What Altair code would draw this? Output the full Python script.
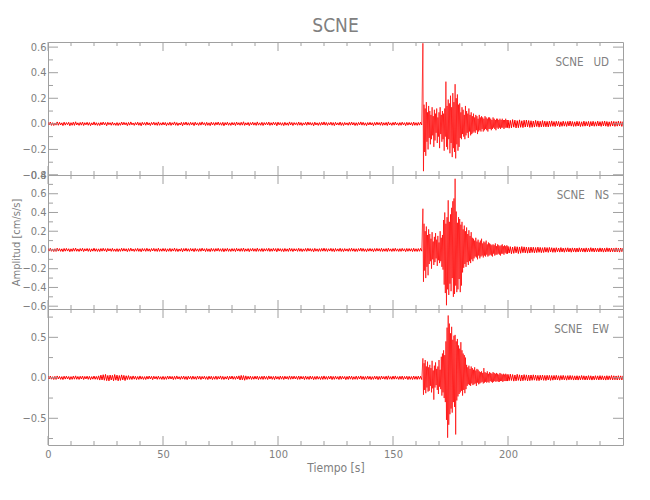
import altair as alt
import pandas as pd

FONT = "Liberation Sans Narrow, DejaVu Sans Condensed, Liberation Sans, sans-serif"
AX = "#a0a0a0"
TX = "#808080"
RED = "#ff0000"
W = 575

# ---- time axis ----
X_DOMAIN = [0, 250]
X_MAJOR = [0, 50, 100, 150, 200]
X_MINOR = [10, 20, 30, 40, 60, 70, 80, 90, 110, 120, 130, 140, 160, 170, 180, 190, 210, 220, 230, 240]

# sampling of the three read-off segments of every trace (seconds)
PRE_START, PRE_STEP = 0.0, 0.5
EV_START, EV_STEP = 163.0, 0.25
CODA_START, CODA_STEP = 200.0, 0.5

# quiet parts are listed in milli-(cm/s/s), the strong motion in cm/s/s
# ---- UD component ----
ud_pre_milli = [
    11, -8, 14, -12, 9, -13, 7, -10, 15, -11, 12, -9, 8, -14, 13, -10, 10, -7, 12, -15,
    9, -11, 13, -12, 16, -9, 8, -12, 11, -10, 14, -13, 9, -8, 12, -11, 10, -14, 8, -9,
    15, -10, 9, -12, 8, -13, 11, -9, 14, -8, 10, -15, 12, -7, 9, -11, 13, -10, 7, -12,
    10, -13, 8, -11, 14, -9, 12, -8, 9, -14, 11, -10, 15, -8, 7, -12, 10, -9, 13, -11,
    9, -15, 12, -8, 10, -11, 14, -9, 8, -13, 11, -7, 13, -10, 9, -12, 15, -11, 8, -10,
    12, -9, 11, -14, 8, -10, 13, -12, 9, -8, 15, -11, 10, -13, 7, -9, 12, -15, 11, -8,
    14, -10, 9, -11, 12, -8, 10, -14, 13, -9, 8, -12, 11, -10, 15, -7, 9, -13, 12, -11,
    8, -14, 13, -9, 10, -12, 11, -8, 14, -10, 9, -11, 12, -15, 10, -9, 13, -11, 8, -12,
    11, -9, 10, -13, 14, -8, 9, -11, 12, -10, 16, -12, 8, -9, 11, -14, 10, -8, 13, -10,
    9, -12, 15, -10, 8, -11, 12, -13, 10, -8, 11, -9, 14, -12, 9, -10, 13, -8, 11, -15,
    13, -8, 10, -11, 9, -14, 12, -10, 8, -12, 15, -9, 11, -13, 10, -7, 9, -11, 14, -10,
    10, -13, 8, -9, 12, -11, 14, -8, 11, -10, 9, -15, 13, -9, 8, -12, 10, -11, 12, -9,
    15, -10, 11, -12, 9, -8, 13, -11, 10, -14, 12, -9, 8, -10, 14, -12, 9, -13, 11, -8,
    8, -11, 12, -10, 14, -9, 10, -13, 9, -12, 11, -8, 15, -10, 12, -11, 8, -14, 10, -9,
    12, -9, 9, -14, 11, -10, 13, -8, 10, -11, 14, -12, 9, -10, 11, -13, 15, -9, 8, -12,
    11, -10, 14, -9, 8, -12, 10, -11, 13, -8, 9, -14, 12, -10, 11, -9, 10, -13, 14, -11,
    9, -12, 11, -10, 13, -9]
ud_event = [0.63, -0.37, 0.15, -0.22, 0.12, -0.25, 0.17, -0.14, 0.09, -0.20, 0.14, -0.11,
            0.10, -0.16, 0.07, -0.12, 0.13, -0.09, 0.06, -0.18, 0.11, -0.13, 0.08, -0.07, 0.12, -0.15, 0.05, -0.10, 0.09, -0.19, 0.13, -0.08, 0.07, -0.14, 0.10, -0.12,
            0.08, -0.21, 0.12, -0.10, 0.33, -0.18, 0.14, -0.20, 0.19, -0.12, 0.16, -0.23,
            0.22, -0.15, 0.13, -0.26, 0.24, -0.19, 0.17, -0.22, 0.31, -0.27, 0.20, -0.16, 0.23, -0.21, 0.15, -0.18,
            0.16, -0.11, 0.09, -0.12, 0.13, -0.08, 0.11, -0.10, 0.07, -0.12, 0.14, -0.09, 0.10, -0.07, 0.08, -0.11, 0.12, -0.06, 0.07, -0.09, 0.09, -0.08, 0.06, -0.07,
            0.08, -0.06, 0.05, -0.07, 0.07, -0.05, 0.06, -0.08, 0.04, -0.06, 0.07, -0.05, 0.05, -0.06, 0.06, -0.04, 0.05, -0.06, 0.04, -0.05, 0.06, -0.04, 0.05, -0.05, 0.04, -0.06, 0.05, -0.04,
            0.05, -0.04, 0.04, -0.05, 0.03, -0.04, 0.05, -0.03, 0.04, -0.04, 0.03, -0.05, 0.04, -0.03, 0.04, -0.04, 0.03, -0.03, 0.04, -0.04, 0.03, -0.03, 0.04, -0.03, 0.03, -0.04, 0.03, -0.03, 0.04, -0.03, 0.03, -0.03]
ud_coda_milli = [
    30, -34, 27, -31, 33, -26, 29, -32, 25, -30, 31, -27, 24, -29, 28, -25, 30, -23, 26, -28,
    24, -27, 22, -25, 27, -21, 23, -26, 20, -24, 25, -22, 21, -23, 19, -24, 22, -20, 23, -19,
    18, -21, 20, -17, 19, -22, 16, -19, 21, -18, 17, -20, 19, -16, 22, -18, 18, -20, 16, -19,
    20, -17, 18, -21, 16, -19, 21, -18, 17, -16, 19, -22, 18, -17, 20, -19, 16, -18, 21, -17,
    17, -20, 19, -16, 22, -18, 18, -21, 16, -19, 20, -17, 19, -20, 17, -18, 21, -16, 18, -20,
    19]

# ---- NS component ----
ns_pre_milli = [
    15, -12, 18, -14, 11, -17, 13, -16, 19, -12, 14, -15, 12, -18, 16, -13, 17, -12, 13, -19,
    12, -15, 17, -13, 20, -14, 11, -16, 15, -12, 18, -17, 13, -11, 16, -15, 14, -18, 12, -13,
    19, -14, 13, -16, 12, -17, 15, -13, 18, -12, 14, -19, 16, -11, 13, -15, 17, -14, 11, -16,
    14, -17, 12, -15, 18, -13, 16, -12, 13, -18, 15, -14, 19, -12, 11, -16, 14, -13, 17, -15,
    13, -19, 16, -12, 14, -15, 18, -13, 12, -17, 15, -11, 17, -14, 13, -16, 19, -15, 12, -14,
    16, -13, 15, -18, 12, -14, 17, -16, 13, -12, 19, -15, 14, -17, 11, -13, 16, -19, 15, -12,
    18, -14, 13, -15, 16, -12, 14, -18, 17, -13, 12, -16, 15, -14, 19, -11, 13, -17, 16, -15,
    12, -18, 17, -13, 14, -16, 15, -12, 18, -14, 13, -15, 16, -19, 14, -13, 17, -15, 12, -16,
    15, -13, 14, -17, 18, -12, 13, -15, 16, -14, 20, -16, 12, -13, 15, -18, 14, -12, 17, -14,
    13, -16, 19, -14, 12, -15, 16, -17, 14, -12, 15, -13, 18, -16, 13, -14, 17, -12, 15, -19,
    17, -12, 14, -15, 13, -18, 16, -14, 12, -16, 19, -13, 15, -17, 14, -11, 13, -15, 18, -14,
    14, -17, 12, -13, 16, -15, 18, -12, 15, -14, 13, -19, 17, -13, 12, -16, 14, -15, 16, -13,
    19, -14, 15, -16, 13, -12, 17, -15, 14, -18, 16, -13, 12, -14, 18, -16, 13, -17, 15, -12,
    12, -15, 16, -14, 18, -13, 14, -17, 13, -16, 15, -12, 19, -14, 16, -15, 12, -18, 14, -13,
    16, -13, 13, -18, 15, -14, 17, -12, 14, -15, 18, -16, 13, -14, 15, -17, 19, -13, 12, -16,
    15, -14, 18, -13, 12, -16, 14, -15, 17, -12, 13, -18, 16, -14, 15, -13, 14, -17, 18, -15,
    13, -16, 15, -14, 17, -13]
ns_event = [0.44, -0.34, 0.28, -0.22, 0.20, -0.30, 0.25, -0.18, 0.16, -0.27, 0.22, -0.15,
            0.17, -0.12, 0.12, -0.20, 0.19, -0.10, 0.09, -0.16, 0.14, -0.13, 0.18, -0.09, 0.11, -0.17, 0.15, -0.11, 0.08, -0.14, 0.20, -0.12, 0.13, -0.18, 0.16, -0.21,
            0.32, -0.37, 0.40, -0.46, 0.28, -0.59, 0.35, -0.42, 0.53, -0.48, 0.30, -0.36,
            0.38, -0.44, 0.45, -0.30, 0.52, -0.50, 0.55, -0.47, 0.76, -0.38, 0.41, -0.45, 0.29, -0.42, 0.35, -0.31,
            0.33, -0.45, 0.27, -0.38, 0.30, -0.24, 0.22, -0.19, 0.26, -0.15, 0.20, -0.18, 0.24, -0.13, 0.17, -0.16, 0.21, -0.12, 0.15, -0.14, 0.19, -0.10, 0.13, -0.12,
            0.12, -0.09, 0.10, -0.07, 0.13, -0.08, 0.09, -0.10, 0.11, -0.06, 0.08, -0.09, 0.10, -0.07, 0.12, -0.06, 0.07, -0.08, 0.09, -0.06, 0.08, -0.07, 0.10, -0.05, 0.06, -0.07, 0.08, -0.06,
            0.07, -0.05, 0.06, -0.06, 0.05, -0.07, 0.06, -0.04, 0.05, -0.06, 0.07, -0.05, 0.04, -0.05, 0.06, -0.04, 0.05, -0.05, 0.04, -0.06, 0.05, -0.04, 0.06, -0.04, 0.04, -0.05, 0.05, -0.03, 0.04, -0.04, 0.05, -0.04]
ns_coda_milli = [
    38, -33, 35, -40, 31, -36, 37, -30, 34, -38, 32, -35, 36, -29, 33, -31, 30, -34, 28, -32,
    30, -27, 29, -31, 26, -28, 30, -25, 27, -29, 24, -27, 28, -23, 25, -26, 27, -22, 24, -25,
    22, -25, 24, -20, 21, -23, 25, -21, 20, -24, 22, -19, 23, -21, 19, -24, 22, -20, 21, -23,
    20, -22, 23, -19, 21, -20, 18, -23, 22, -21, 19, -20, 24, -18, 20, -22, 21, -19, 18, -21,
    22, -19, 20, -23, 19, -21, 23, -18, 20, -22, 21, -19, 18, -21, 22, -20, 19, -23, 21, -18,
    20]

# ---- EW component ----
ew_pre_milli = [
    19, -15, 22, -17, 14, -21, 18, -20, 23, -14, 17, -19, 15, -22, 20, -16, 21, -15, 16, -23,
    15, -19, 21, -17, 24, -18, 16, -20, 19, -15, 22, -21, 17, -14, 20, -19, 18, -22, 15, -17,
    22, -18, 17, -20, 24, -28, 33, -26, 38, -30, 42, -35, 29, -38, 34, -27, 31, -36, 40, -29,
    33, -37, 28, -32, 36, -26, 30, -34, 25, -22, 27, -20, 18, -21, 23, -17, 19, -22, 16, -20,
    23, -17, 16, -20, 15, -21, 19, -16, 22, -15, 18, -23, 20, -14, 16, -19, 21, -17, 14, -20,
    18, -21, 15, -19, 22, -16, 20, -15, 17, -22, 19, -18, 23, -15, 14, -20, 18, -16, 21, -19,
    16, -23, 20, -15, 18, -19, 21, -17, 15, -20, 22, -16, 19, -21, 17, -14, 20, -18, 15, -22,
    20, -16, 19, -22, 15, -18, 21, -20, 17, -15, 23, -19, 18, -21, 14, -16, 20, -23, 19, -15,
    22, -18, 16, -19, 20, -15, 24, -27, 29, -25, 27, -30, 24, -21, 19, -17, 21, -20, 16, -18,
    20, -16, 21, -22, 15, -18, 19, -20, 22, -17, 16, -21, 23, -15, 18, -19, 17, -22, 20, -16,
    15, -20, 22, -17, 18, -21, 20, -15, 16, -19, 23, -18, 19, -16, 21, -14, 17, -20, 22, -19,
    19, -15, 17, -22, 21, -18, 15, -20, 22, -16, 18, -23, 16, -19, 20, -17, 14, -21, 18, -20,
    23, -18, 16, -20, 19, -15, 21, -22, 17, -19, 20, -16, 15, -21, 22, -18, 19, -14, 17, -23,
    16, -19, 22, -17, 20, -21, 14, -18, 21, -20, 18, -15, 23, -19, 17, -22, 16, -18, 21, -17,
    18, -22, 15, -19, 21, -16, 19, -23, 17, -20, 22, -15, 16, -18, 20, -21, 24, -17, 15, -19,
    21, -17, 23, -16, 15, -20, 19, -18, 22, -21, 17, -15, 20, -22, 18, -19, 16, -21, 22, -18,
    18, -20, 21, -17, 19, -22]
ew_event = [0.24, -0.21, 0.18, -0.15, 0.22, -0.19, 0.14, -0.12, 0.20, -0.17, 0.13, -0.16,
            0.16, -0.10, 0.12, -0.18, 0.21, -0.13, 0.09, -0.27, 0.15, -0.12, 0.19, -0.09, 0.11, -0.15, 0.14, -0.20, 0.22, -0.11, 0.10, -0.14,
            0.26, -0.22, 0.30, -0.18, 0.34, -0.25, 0.28, -0.30,
            0.45, -0.52, 0.62, -0.74, 0.77, -0.58, 0.67, -0.45,
            0.55, -0.38, 0.63, -0.43, 0.47, -0.30, 0.52, -0.36,
            0.53, -0.70, 0.45, -0.28,
            0.48, -0.23, 0.40, -0.20, 0.36, -0.18, 0.44, -0.16, 0.34, -0.22, 0.30, -0.15, 0.28, -0.19, 0.25, -0.14,
            0.16, -0.10, 0.13, -0.08, 0.15, -0.09, 0.11, -0.10, 0.14, -0.07, 0.12, -0.09, 0.10, -0.08, 0.13, -0.07, 0.09, -0.10, 0.11, -0.06, 0.10, -0.08, 0.08, -0.07,
            0.07, -0.06, 0.08, -0.05, 0.06, -0.07, 0.12, -0.06, 0.07, -0.05, 0.06, -0.06, 0.08, -0.05, 0.05, -0.06, 0.07, -0.04, 0.06, -0.05,
            0.05, -0.06, 0.07, -0.05, 0.06, -0.04, 0.05, -0.05, 0.06, -0.04, 0.05, -0.05, 0.04, -0.05, 0.06, -0.04, 0.05, -0.04, 0.04, -0.05,
            0.05, -0.04, 0.04, -0.04, 0.05, -0.04, 0.04, -0.04]
ew_coda_milli = [
    42, -36, 45, -33, 40, -41, 35, -38, 43, -32, 37, -40, 34, -36, 39, -31, 36, -38, 33, -35,
    35, -31, 37, -29, 33, -34, 30, -35, 32, -28, 34, -31, 29, -33, 31, -27, 30, -32, 28, -29,
    29, -25, 31, -27, 26, -30, 28, -24, 30, -26, 25, -29, 27, -25, 29, -23, 26, -28, 24, -27,
    26, -28, 24, -25, 28, -23, 25, -27, 23, -26, 27, -24, 25, -28, 22, -25, 26, -23, 24, -27,
    27, -24, 25, -26, 23, -28, 26, -25, 24, -23, 28, -26, 25, -24, 23, -27, 26, -25, 24, -26,
    25]

# ---- per-panel axes ----
UD_DOMAIN = [-0.40, 0.64]
UD_MAJOR = [-0.4, -0.2, 0.0, 0.2, 0.4, 0.6]
UD_MINOR = [-0.3, -0.1, 0.1, 0.3, 0.5]
NS_DOMAIN = [-0.63, 0.80]
NS_MAJOR = [-0.6, -0.4, -0.2, 0.0, 0.2, 0.4, 0.6, 0.8]
NS_MINOR = [-0.5, -0.3, -0.1, 0.1, 0.3, 0.5, 0.7]
EW_DOMAIN = [-0.83, 0.85]
EW_MAJOR = [-0.5, 0.0, 0.5]
EW_MINOR = [-0.75, -0.25, 0.25, 0.75]

PANELS = [
    dict(label="SCNE\u00a0\u00a0\u00a0UD", pre=ud_pre_milli, ev=ud_event, coda=ud_coda_milli,
         domain=UD_DOMAIN, major=UD_MAJOR, minor=UD_MINOR, height=133),
    dict(label="SCNE\u00a0\u00a0\u00a0NS", pre=ns_pre_milli, ev=ns_event, coda=ns_coda_milli,
         domain=NS_DOMAIN, major=NS_MAJOR, minor=NS_MINOR, height=134),
    dict(label="SCNE\u00a0\u00a0\u00a0EW", pre=ew_pre_milli, ev=ew_event, coda=ew_coda_milli,
         domain=EW_DOMAIN, major=EW_MAJOR, minor=EW_MINOR, height=136),
]

NOISE_W, EVENT_W = 1.0, 0.7


def trace_frame(p):
    rows = []
    segs = [("pre", PRE_START, PRE_STEP, [v / 1000 for v in p["pre"]], NOISE_W),
            ("event", EV_START, EV_STEP, p["ev"], EVENT_W),
            ("coda", CODA_START, CODA_STEP, [v / 1000 for v in p["coda"]], NOISE_W)]
    last = None
    for name, start, step, vals, w in segs:
        if last is not None:  # join to the previous segment's last sample
            rows.append({"t": last[0], "v": last[1], "seg": name, "w": w})
        for i, v in enumerate(vals):
            rows.append({"t": start + step * i, "v": v, "seg": name, "w": w})
        last = (start + step * (len(vals) - 1), vals[-1])
    return pd.DataFrame(rows)


def make_panel(p, idx):
    H = p["height"]
    bottom = idx == len(PANELS) - 1
    if bottom:
        xaxis = alt.Axis(values=X_MAJOR, ticks=False, domain=False, grid=False,
                         labelColor=TX, labelFont=FONT, labelFontSize=11, labelPadding=3,
                         labelFlush=False, format="d",
                         title="Tiempo [s]", titleColor=TX, titleFont=FONT, titleFontSize=12,
                         titleFontWeight="normal", titlePadding=3)
    else:
        xaxis = None
    ytitle = "Amplitud [cm/s/s]" if idx == 1 else None
    yaxis = alt.Axis(values=p["major"], ticks=False, domain=False, grid=False,
                     labelColor=TX, labelFont=FONT, labelFontSize=11, labelPadding=2,
                     labelOverlap=False, labelFlush=False, format=".1f",
                     title=ytitle, titleColor=TX, titleFont=FONT, titleFontSize=11,
                     titleFontWeight="normal", titlePadding=0)
    xs = alt.Scale(domain=X_DOMAIN, nice=False, zero=False)
    ys = alt.Scale(domain=p["domain"], nice=False, zero=False)

    def X():
        return alt.X("t:Q", scale=xs, axis=xaxis)

    def Y():
        return alt.Y("v:Q", scale=ys, axis=yaxis)

    line = alt.Chart(trace_frame(p)).mark_line(color=RED, clip=True).encode(
        x=X(), y=Y(), detail="seg:N", strokeWidth=alt.StrokeWidth("w:Q", scale=None))

    ymaj = pd.DataFrame({"v": p["major"]})
    ymin = pd.DataFrame({"v": p["minor"]})
    xmaj = pd.DataFrame({"t": X_MAJOR})
    xmin = pd.DataFrame({"t": X_MINOR})

    layers = [line]
    for df, ln in ((ymaj, 10), (ymin, 5)):
        layers.append(alt.Chart(df).mark_rule(color=AX, strokeWidth=1)
                      .encode(y=Y(), x=alt.value(0), x2=alt.value(ln)))
        layers.append(alt.Chart(df).mark_rule(color=AX, strokeWidth=1)
                      .encode(y=Y(), x=alt.value(W), x2=alt.value(W - ln)))
    for df, ln in ((xmaj, 9), (xmin, 4)):
        layers.append(alt.Chart(df).mark_rule(color=AX, strokeWidth=1)
                      .encode(x=X(), y=alt.value(0), y2=alt.value(ln)))
        layers.append(alt.Chart(df).mark_rule(color=AX, strokeWidth=1)
                      .encode(x=X(), y=alt.value(H), y2=alt.value(H - ln)))
    layers.append(alt.Chart(pd.DataFrame({"label": [p["label"]]}))
                  .mark_text(align="right", baseline="middle", font=FONT, fontSize=11.5, color=TX)
                  .encode(x=alt.value(W - 14), y=alt.value(21), text="label:N"))

    ch = alt.layer(*layers).properties(width=W, height=H)
    if idx == 0:
        ch = ch.properties(title=alt.TitleParams(text="SCNE", font=FONT, fontSize=19,
                                                 fontWeight="normal", color=TX, anchor="middle",
                                                 frame="group", offset=5))
    return ch


chart = alt.vconcat(*[make_panel(p, i) for i, p in enumerate(PANELS)],
                    spacing=0, bounds="flush").properties(
    padding={"left": 2, "top": 8, "right": 5, "bottom": 5}
).configure_view(stroke=AX, strokeWidth=1)

chart.save("out.html", embed_options={"renderer": "svg", "actions": False})
